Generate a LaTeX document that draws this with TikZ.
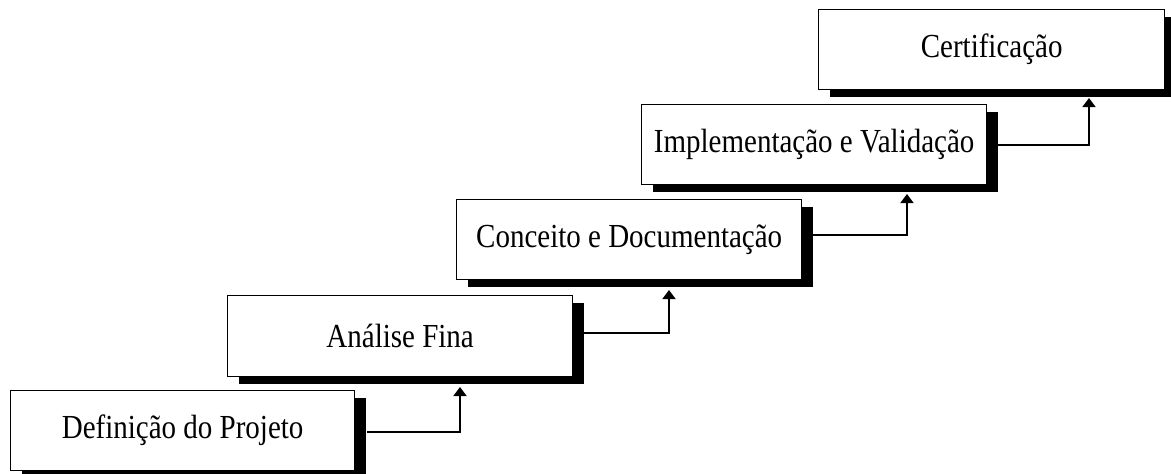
\documentclass[tikz,border=0pt]{standalone}
\usepackage{fontspec}
\setmainfont{Liberation Serif}
\usetikzlibrary{shadows,arrows.meta}
\newcommand\stagetext[1]{\scalebox{1}[1.16]{#1}}
\begin{document}
\begin{tikzpicture}[x=1pt,y=-1pt,
  stagebox/.style={draw=black, line width=1.3pt, fill=white, anchor=north west,
    inner sep=0pt, minimum height=80pt,
    font=\fontsize{29}{34}\selectfont,
    drop shadow={shadow xshift=11pt, shadow yshift=-7pt, fill=black, opacity=1}},
  link/.style={line width=1.8pt, -{Triangle[length=9pt,width=13pt]}}]
\useasboundingbox (0,0) rectangle (1171,474);

\node[stagebox, minimum width=344pt] (b1) at (10,390) {\stagetext{Definição do Projeto}};
\node[stagebox, minimum width=345pt, minimum height=81pt] (b2) at (227,295) {\stagetext{Análise Fina}};
\node[stagebox, minimum width=345pt] (b3) at (456,199) {\stagetext{Conceito e Documentação}};
\node[stagebox, minimum width=345pt] (b4) at (641,104) {\stagetext{Implementação e Validação}};
\node[stagebox, minimum width=346pt] (b5) at (818,9) {\stagetext{Certificação}};

\coordinate (s1) at (367,432);
\coordinate (t1) at (460,387);
\coordinate (s2) at (584,333);
\coordinate (t2) at (669,290);
\coordinate (s3) at (813,235);
\coordinate (t3) at (907,194);
\coordinate (s4) at (998,145);
\coordinate (t4) at (1089,98);

\draw[link] (s1) -| (t1);
\draw[link] (s2) -| (t2);
\draw[link] (s3) -| (t3);
\draw[link] (s4) -| (t4);
\end{tikzpicture}
\end{document}
